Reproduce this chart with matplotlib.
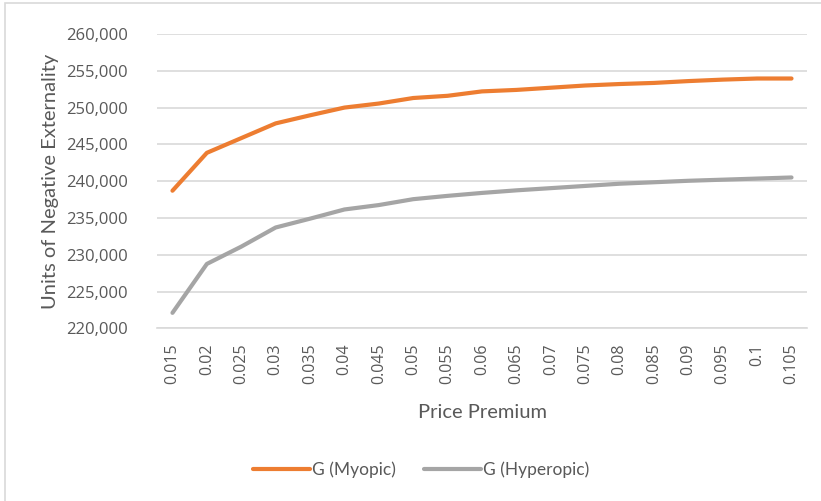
import matplotlib
matplotlib.use("Agg")
import matplotlib.pyplot as plt
from matplotlib.patches import Rectangle
from matplotlib.ticker import FuncFormatter

# Price premium categories and the two externality series
PREMIUMS = ["0.015", "0.02", "0.025", "0.03", "0.035", "0.04", "0.045", "0.05",
            "0.055", "0.06", "0.065", "0.07", "0.075", "0.08", "0.085", "0.09",
            "0.095", "0.1", "0.105"]
MYOPIC = [238700, 243850, 245850, 247850, 248950, 250000, 250550, 251300,
          251600, 252200, 252400, 252700, 253000, 253200, 253350, 253600,
          253800, 253950, 253950]
HYPEROPIC = [222100, 228750, 231100, 233700, 234900, 236150, 236750, 237550,
             238000, 238400, 238750, 239050, 239350, 239650, 239850, 240050,
             240200, 240350, 240500]

ORANGE = "#ED7D31"
GRAY = "#A5A5A5"
TEXT = "#595959"
GRID = "#D9D9D9"

TICK_FONT = "Open Sans"
TITLE_FONT = "Lato"


def main():
    fig = plt.figure(figsize=(8.21, 5.01), dpi=100)
    ax = fig.add_axes([157 / 821, 1 - 328.3 / 501, 650 / 821, 294.3 / 501])

    x = range(len(PREMIUMS))
    ax.plot(x, MYOPIC, color=ORANGE, lw=3, solid_capstyle="round", label="G (Myopic)")
    ax.plot(x, HYPEROPIC, color=GRAY, lw=3, solid_capstyle="round", label="G (Hyperopic)")

    ax.set_xlim(-0.45, len(PREMIUMS) - 0.55)
    ax.set_ylim(220000, 260000)
    ax.set_yticks(range(220000, 260001, 5000))
    ax.yaxis.set_major_formatter(FuncFormatter(lambda v, _: f"{int(v):,}"))
    ax.grid(axis="y", color=GRID, lw=1.2)
    ax.set_axisbelow(True)

    ax.set_xticks(list(x))
    ax.set_xticklabels(PREMIUMS, rotation=90, fontfamily=TICK_FONT, fontsize=11.5, color=TEXT)
    for lbl in ax.get_yticklabels():
        lbl.set_fontfamily(TICK_FONT)
        lbl.set_fontsize(12)
        lbl.set_color(TEXT)
    ax.tick_params(length=0)
    ax.tick_params(axis="y", pad=21)
    ax.tick_params(axis="x", pad=11)

    for side in ["top", "right", "left"]:
        ax.spines[side].set_visible(False)
    ax.spines["bottom"].set_color(GRID)
    ax.spines["bottom"].set_linewidth(1.2)

    ax.set_ylabel("Units of Negative Externality", fontfamily=TITLE_FONT, fontsize=14.5,
                  color=TEXT, labelpad=5)
    ax.set_xlabel("Price Premium", fontfamily=TITLE_FONT, fontsize=14.5, color=TEXT, labelpad=14)

    fig.legend(loc="center", bbox_to_anchor=(421 / 821, 1 - 470 / 501), ncol=2,
               frameon=False, handlelength=3.3, handletextpad=0.1, columnspacing=1.6,
               prop={"family": TITLE_FONT, "size": 12.5}, labelcolor=TEXT)

    # chart area border
    fig.add_artist(Rectangle((5 / 821, -0.1), 1.2, 1 - 3 / 501 + 0.1,
                             transform=fig.transFigure, fill=False,
                             edgecolor=GRID, lw=1.2))

    fig.savefig("out.png", dpi=100)
    plt.close(fig)


if __name__ == "__main__":
    main()
